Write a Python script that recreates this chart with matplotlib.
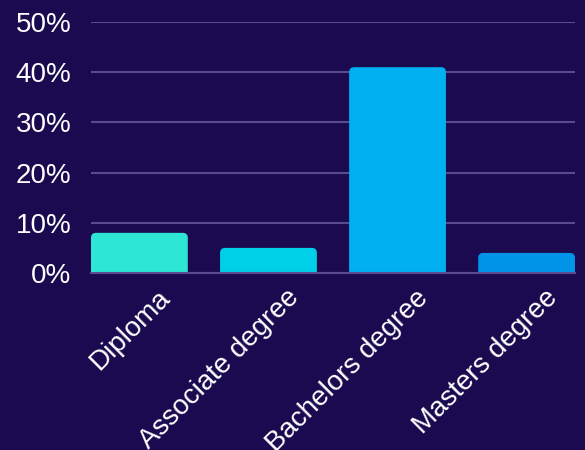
import matplotlib
matplotlib.use('Agg')
import matplotlib.pyplot as plt
import matplotlib.transforms as mtransforms
from matplotlib.patches import FancyBboxPatch
from matplotlib.ticker import FuncFormatter


# data
categories = ['Diploma', 'Associate degree', 'Bachelors degree', 'Masters degree']
shares = [8, 5, 41, 4]
bar_colors = ['#2ee6d6', '#00cfe8', '#00b0f0', '#0094e8']

bg = '#1b0a50'
grid_col = '#5a4a8e'

plt.rcParams['font.family'] = ['Liberation Sans', 'DejaVu Sans']

fig = plt.figure(figsize=(5.85, 4.5), dpi=100, facecolor=bg)
ax = fig.add_axes([91 / 585, 177 / 450, 484 / 585, 251 / 450])
ax.set_facecolor(bg)

bars = ax.bar(range(len(categories)), shares, width=0.75, color=bar_colors, zorder=2)

ax.set_xlim(-0.375, len(categories) - 0.625)
ax.set_ylim(0, 50)

# swap plain rectangles for ones with rounded top corners
x_per_px = 1 / 129
y_per_px = 50 / 251
r = 5 * x_per_px
for b in bars:
    x, y = b.get_x(), b.get_y()
    w, h = b.get_width(), b.get_height()
    b.set_visible(False)
    p = FancyBboxPatch((x, y - h), w, 2 * h,
                       boxstyle='round,pad=0,rounding_size=%f' % r,
                       mutation_aspect=y_per_px / x_per_px,
                       facecolor=b.get_facecolor(), edgecolor='none', zorder=2)
    ax.add_patch(p)

ax.set_yticks([0, 10, 20, 30, 40, 50])
ax.yaxis.set_major_formatter(FuncFormatter(lambda v, pos: '%d%%' % v))
ax.grid(axis='y', color=grid_col, linewidth=1.5, zorder=0)
ax.set_axisbelow(True)

for s in ['top', 'right', 'left']:
    ax.spines[s].set_visible(False)
ax.spines['bottom'].set_color(grid_col)
ax.spines['bottom'].set_linewidth(1.5)
ax.spines['bottom'].set_zorder(3)

ax.set_xticks(range(len(categories)))
ax.set_xticklabels(categories, rotation=45, ha='right', va='center',
                   rotation_mode='anchor')
ax.tick_params(axis='both', length=0, colors='white')
ax.tick_params(axis='y', pad=14, labelsize=20)
ax.tick_params(axis='x', pad=15, labelsize=20)

shift = mtransforms.ScaledTranslation(27 / 100, 0, fig.dpi_scale_trans)
for lab in ax.get_xticklabels():
    lab.set_transform(lab.get_transform() + shift)

fig.savefig('out.png', dpi=100, facecolor=bg)
